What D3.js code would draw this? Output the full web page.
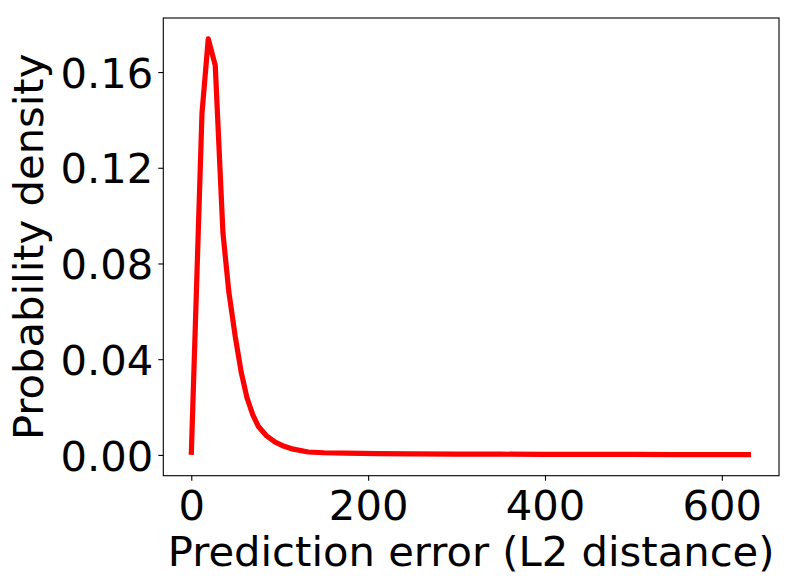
<!DOCTYPE html>
<html>
<head>
<meta charset="utf-8">
<script src="https://cdn.jsdelivr.net/npm/d3@7"></script>
<style>
  html, body { margin: 0; padding: 0; background: #fff; }
  svg text { font-family: "DejaVu Sans", sans-serif; fill: #000; }
</style>
</head>
<body>
<svg id="chart" width="797" height="588"></svg>
<script>
// Data
const errorX = [0, 12.1, 19.2, 27.1, 35.8, 42.5, 49.7, 56.5, 62.9, 69.5, 75.7, 85, 94.9, 105, 115.3, 132.2, 150, 174, 210, 250, 300, 350, 400, 450, 500, 550, 600, 633];
const density = [0, 0.1428, 0.1739, 0.1628, 0.0928, 0.068, 0.0495, 0.0345, 0.0240, 0.0168, 0.0120, 0.0080, 0.0053, 0.0036, 0.0024, 0.0012, 0.0009, 0.0007, 0.0005, 0.0004, 0.0003, 0.0003, 0.0002, 0.0002, 0.0002, 0.0001, 0.0001, 0.0001];
const xTicks = [0, 200, 400, 600];
const yTicks = [0, 0.04, 0.08, 0.12, 0.16];
const xLabel = "Prediction error (L2 distance)";
const yLabel = "Probability density";

const svg = d3.select("#chart");
const L = 163.3, R = 779, T = 18, B = 475.7;
const fs = 41.7;

const xMax = d3.max(errorX), yMax = d3.max(density);
const x = d3.scaleLinear().domain([-0.05 * xMax, xMax * 1.05]).range([L, R]);
const y = d3.scaleLinear().domain([-0.05 * yMax, yMax * 1.05]).range([B, T]);

// line
const line = d3.line().x((d, i) => x(errorX[i])).y(d => y(d));
svg.append("path")
  .datum(density)
  .attr("d", line)
  .attr("fill", "none")
  .attr("stroke", "#ff0000")
  .attr("stroke-width", 5.2)
  .attr("stroke-linejoin", "round")
  .attr("stroke-linecap", "butt");

// axes
const xAxis = d3.axisBottom(x).tickValues(xTicks).tickSize(5).tickPadding(8).tickFormat(d3.format("d"));
const yAxis = d3.axisLeft(y).tickValues(yTicks).tickSize(5).tickPadding(5).tickFormat(d3.format(".2f"));

const gx = svg.append("g").attr("transform", `translate(0,${B})`).call(xAxis);
const gy = svg.append("g").attr("transform", `translate(${L},0)`).call(yAxis);
[gx, gy].forEach(g => {
  g.select(".domain").remove();
  g.selectAll(".tick line").attr("stroke", "#000").attr("stroke-width", 1.1);
  g.selectAll(".tick text").style("font-size", fs + "px").attr("fill", "#000");
});
gx.selectAll(".tick text").attr("dy", null).attr("y", 44.5);
gy.selectAll(".tick text").attr("dy", null).attr("dominant-baseline", "alphabetic").attr("y", 15.2);

// frame
svg.append("rect")
  .attr("x", L).attr("y", T).attr("width", R - L).attr("height", B - T)
  .attr("fill", "none").attr("stroke", "#000").attr("stroke-width", 1.1);

// labels
svg.append("text")
  .attr("x", (L + R) / 2).attr("y", 566)
  .attr("text-anchor", "middle")
  .style("font-size", fs + "px")
  .text(xLabel);
svg.append("text")
  .attr("transform", `translate(43,${(T + B) / 2}) rotate(-90)`)
  .attr("text-anchor", "middle")
  .style("font-size", fs + "px")
  .text(yLabel);
</script>
</body>
</html>
